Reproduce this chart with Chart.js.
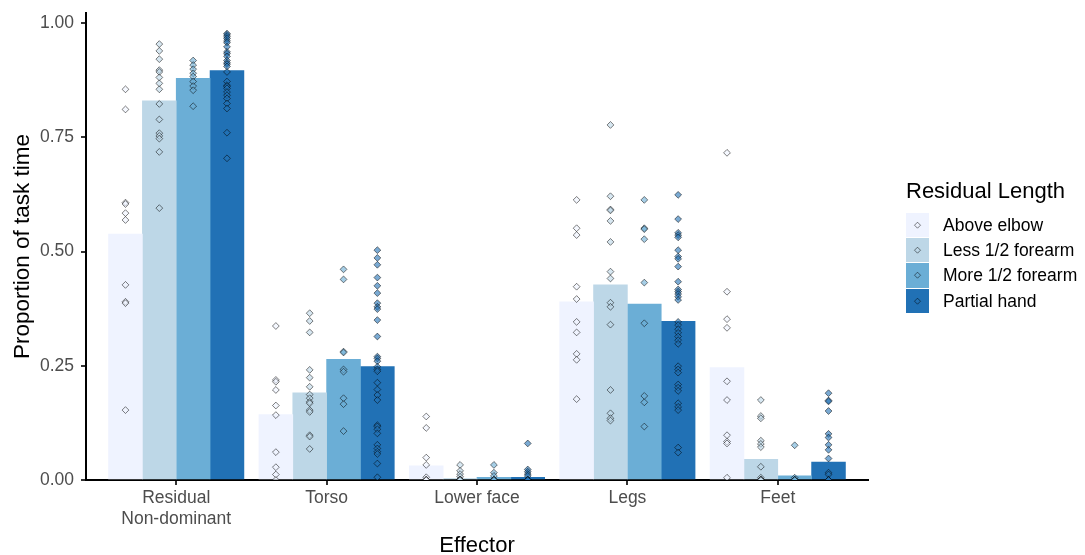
<!DOCTYPE html>
<html>
<head>
<meta charset="utf-8">
<script src="https://cdn.jsdelivr.net/npm/chart.js@4.4.1/dist/chart.umd.min.js"></script>
<style>
  html, body { margin: 0; padding: 0; background: #fff; }
  #wrap { position: relative; width: 1085px; height: 555px; font-family: "Liberation Sans", Arial, sans-serif; }
  #c { position: absolute; left: 0; top: 0; }
  .lg-title { position: absolute; left: 906px; top: 180px; font-size: 22px; line-height: 22px; color: #000; white-space: nowrap; }
  .lg-row { position: absolute; left: 906px; height: 24.3px; }
  .lg-key { position: absolute; left: 0; top: 0; width: 23px; height: 24.3px; }
  .lg-key svg { position: absolute; left: 0; top: 0; }
  .lg-label { position: absolute; left: 37px; top: 0; height: 24.3px; line-height: 24.3px; font-size: 17.5px; color: #000; white-space: nowrap; }
</style>
</head>
<body>
<div id="wrap">
  <canvas id="c" width="1085" height="555"></canvas>
  <div id="legend"></div>
</div>
<script>
// ---- Data ----
const tickLabels = [['Residual', 'Non-dominant'], 'Torso', 'Lower face', 'Legs', 'Feet'];
const seriesNames = ['Above elbow', 'Less 1/2 forearm', 'More 1/2 forearm', 'Partial hand'];
const seriesColors = ['#EFF3FF', '#BDD7E7', '#6BAED6', '#2171B5'];
const pointFills = ['rgba(239,243,255,0.6)', 'rgba(189,215,231,0.6)', 'rgba(107,174,214,0.6)', 'rgba(33,113,181,0.6)'];
const yTicks = [0, 0.25, 0.5, 0.75, 1.0];

// bar heights (mean proportion of task time)
const aboveElbowMean  = [0.538, 0.143, 0.031, 0.390, 0.246];
const lessHalfMean    = [0.830, 0.191, 0.003, 0.427, 0.045];
const moreHalfMean    = [0.879, 0.264, 0.006, 0.385, 0.009];
const partialHandMean = [0.896, 0.248, 0.006, 0.347, 0.039];

// individual participant values per effector
const aboveElbowPts = [
  [0.855, 0.811, 0.607, 0.604, 0.584, 0.569, 0.427, 0.390, 0.387, 0.153],
  [0.337, 0.219, 0.215, 0.197, 0.163, 0.142, 0.061, 0.028, 0.012, 0.0],
  [0.139, 0.114, 0.049, 0.033, 0.006, 0.0, 0.0, 0.0, 0.0, 0.0],
  [0.613, 0.551, 0.536, 0.423, 0.396, 0.346, 0.323, 0.276, 0.263, 0.177],
  [0.716, 0.412, 0.352, 0.333, 0.216, 0.175, 0.098, 0.084, 0.080, 0.005]
];
const lessHalfPts = [
  [0.954, 0.939, 0.921, 0.897, 0.893, 0.881, 0.868, 0.855, 0.823, 0.789, 0.759, 0.753, 0.747, 0.718, 0.595],
  [0.365, 0.348, 0.323, 0.241, 0.224, 0.204, 0.187, 0.179, 0.171, 0.168, 0.153, 0.149, 0.098, 0.095, 0.068],
  [0.033, 0.020, 0.013, 0.007, 0.0, 0.0, 0.0, 0.0, 0.0, 0.0, 0.0, 0.0, 0.0, 0.0, 0.0],
  [0.777, 0.621, 0.592, 0.590, 0.567, 0.521, 0.456, 0.441, 0.388, 0.379, 0.340, 0.197, 0.146, 0.135, 0.130],
  [0.175, 0.140, 0.135, 0.086, 0.079, 0.072, 0.029, 0.005, 0.0, 0.0, 0.0, 0.0, 0.0, 0.0, 0.0]
];
const moreHalfPts = [
  [0.918, 0.908, 0.899, 0.890, 0.883, 0.872, 0.862, 0.853, 0.818],
  [0.461, 0.439, 0.281, 0.279, 0.242, 0.237, 0.179, 0.166, 0.107],
  [0.033, 0.016, 0.009, 0.0, 0.0, 0.0, 0.0, 0.0, 0.0],
  [0.613, 0.551, 0.549, 0.527, 0.432, 0.343, 0.184, 0.170, 0.117],
  [0.076, 0.005, 0.0, 0.0, 0.0, 0.0, 0.0, 0.0, 0.0]
];
const partialHandPts = [
  [0.977, 0.974, 0.970, 0.966, 0.961, 0.957, 0.948, 0.937, 0.933, 0.927, 0.918, 0.913, 0.910, 0.905, 0.893,
   0.872, 0.864, 0.861, 0.857, 0.849, 0.842, 0.835, 0.824, 0.813, 0.760, 0.704],
  [0.503, 0.486, 0.471, 0.443, 0.425, 0.409, 0.387, 0.379, 0.374, 0.350, 0.314, 0.270, 0.266, 0.260, 0.248,
   0.242, 0.238, 0.213, 0.198, 0.186, 0.175, 0.120, 0.117, 0.111, 0.102, 0.077, 0.069, 0.062, 0.057, 0.036, 0.006],
  [0.080, 0.023, 0.018, 0.013, 0.009, 0.0, 0.0, 0.0, 0.0, 0.0],
  [0.624, 0.571, 0.541, 0.536, 0.531, 0.503, 0.489, 0.484, 0.467, 0.434, 0.417, 0.412, 0.407, 0.401, 0.394,
   0.346, 0.339, 0.330, 0.322, 0.314, 0.306, 0.298, 0.249, 0.242, 0.235, 0.209, 0.202, 0.195, 0.168, 0.160,
   0.153, 0.071, 0.060],
  [0.190, 0.174, 0.172, 0.151, 0.101, 0.093, 0.077, 0.066, 0.047, 0.016, 0.012, 0.0, 0.0, 0.0, 0.0]
];

// ---- Build datasets ----
const means = [aboveElbowMean, lessHalfMean, moreHalfMean, partialHandMean];
const pts = [aboveElbowPts, lessHalfPts, moreHalfPts, partialHandPts];
const dodge = [-0.3375, -0.1125, 0.1125, 0.3375];

const datasets = [];
seriesNames.forEach((name, s) => {
  datasets.push({
    type: 'bar',
    label: name,
    data: means[s].map((v, i) => ({ x: i + 1 + dodge[s], y: v })),
    backgroundColor: seriesColors[s],
    borderWidth: 0,
    grouped: false,
    categoryPercentage: 1,
    barPercentage: 1,
    order: 2
  });
});
seriesNames.forEach((name, s) => {
  const d = [];
  pts[s].forEach((arr, i) => arr.forEach(v => d.push({ x: i + 1 + dodge[s], y: v })));
  datasets.push({
    type: 'scatter',
    label: name + ' points',
    data: d,
    showLine: false,
    pointStyle: 'rectRot',
    pointRadius: 3.4,
    pointBorderWidth: 1,
    pointBorderColor: 'rgba(0,0,0,0.5)',
    pointBackgroundColor: pointFills[s],
    clip: 0,
    order: 1
  });
});

const FONT = '"Liberation Sans", Arial, sans-serif';

new Chart(document.getElementById('c'), {
  type: 'bar',
  data: { datasets },
  options: {
    responsive: false,
    devicePixelRatio: 1,
    animation: false,
    layout: { padding: { left: 0, right: 217, top: 13, bottom: 0 } },
    plugins: { legend: { display: false }, tooltip: { enabled: false } },
    scales: {
      x: {
        type: 'linear',
        min: 0.4,
        max: 5.6,
        offset: false,
        z: 1,
        afterBuildTicks: ax => { ax.ticks = tickLabels.map((_, i) => ({ value: i + 1 })); },
        afterFit: ax => { ax.height = 75; ax.paddingLeft = 0; ax.paddingRight = 0; },
        ticks: {
          callback: v => tickLabels[Math.round(v) - 1],
          font: { family: FONT, size: 17.5 },
          color: '#4D4D4D',
          padding: 3,
          autoSkip: false,
          maxRotation: 0,
          minRotation: 0
        },
        grid: { display: true, drawOnChartArea: false, drawTicks: true, tickLength: 5, lineWidth: 2, color: '#333333', offset: false },
        border: { display: true, color: '#000000', width: 2 },
        title: { display: true, text: 'Effector', color: '#000', font: { family: FONT, size: 22, lineHeight: 1 }, padding: { top: 0, bottom: -2 } }
      },
      y: {
        type: 'linear',
        min: 0,
        max: 1.022,
        z: 1,
        afterBuildTicks: ax => { ax.ticks = yTicks.map(v => ({ value: v })); },
        afterFit: ax => { ax.width = 86; ax.paddingTop = 0; ax.paddingBottom = 0; },
        ticks: {
          callback: v => Number(v).toFixed(2),
          font: { family: FONT, size: 17.5 },
          color: '#4D4D4D',
          padding: 7
        },
        grid: { display: true, drawOnChartArea: false, drawTicks: true, tickLength: 5, lineWidth: 2, color: '#333333' },
        border: { display: true, color: '#000000', width: 2 },
        title: { display: true, text: 'Proportion of task time', color: '#000', font: { family: FONT, size: 22.5, lineHeight: 1 }, padding: { top: 12, bottom: 0 } }
      }
    }
  }
});

// ---- HTML legend ----
const lg = document.getElementById('legend');
const t = document.createElement('div');
t.className = 'lg-title';
t.textContent = 'Residual Length';
lg.appendChild(t);
seriesNames.forEach((name, s) => {
  const row = document.createElement('div');
  row.className = 'lg-row';
  row.style.top = (212.7 + s * 25.3) + 'px';
  row.innerHTML =
    '<div class="lg-key" style="background:' + seriesColors[s] + '">' +
    '<svg width="23" height="24.3"><polygon points="11.5,9.2 14.5,12.2 11.5,15.2 8.5,12.2" fill="' + pointFills[s] +
    '" stroke="rgba(0,0,0,0.5)" stroke-width="1"/></svg></div>' +
    '<div class="lg-label">' + name + '</div>';
  lg.appendChild(row);
});
</script>
</body>
</html>
